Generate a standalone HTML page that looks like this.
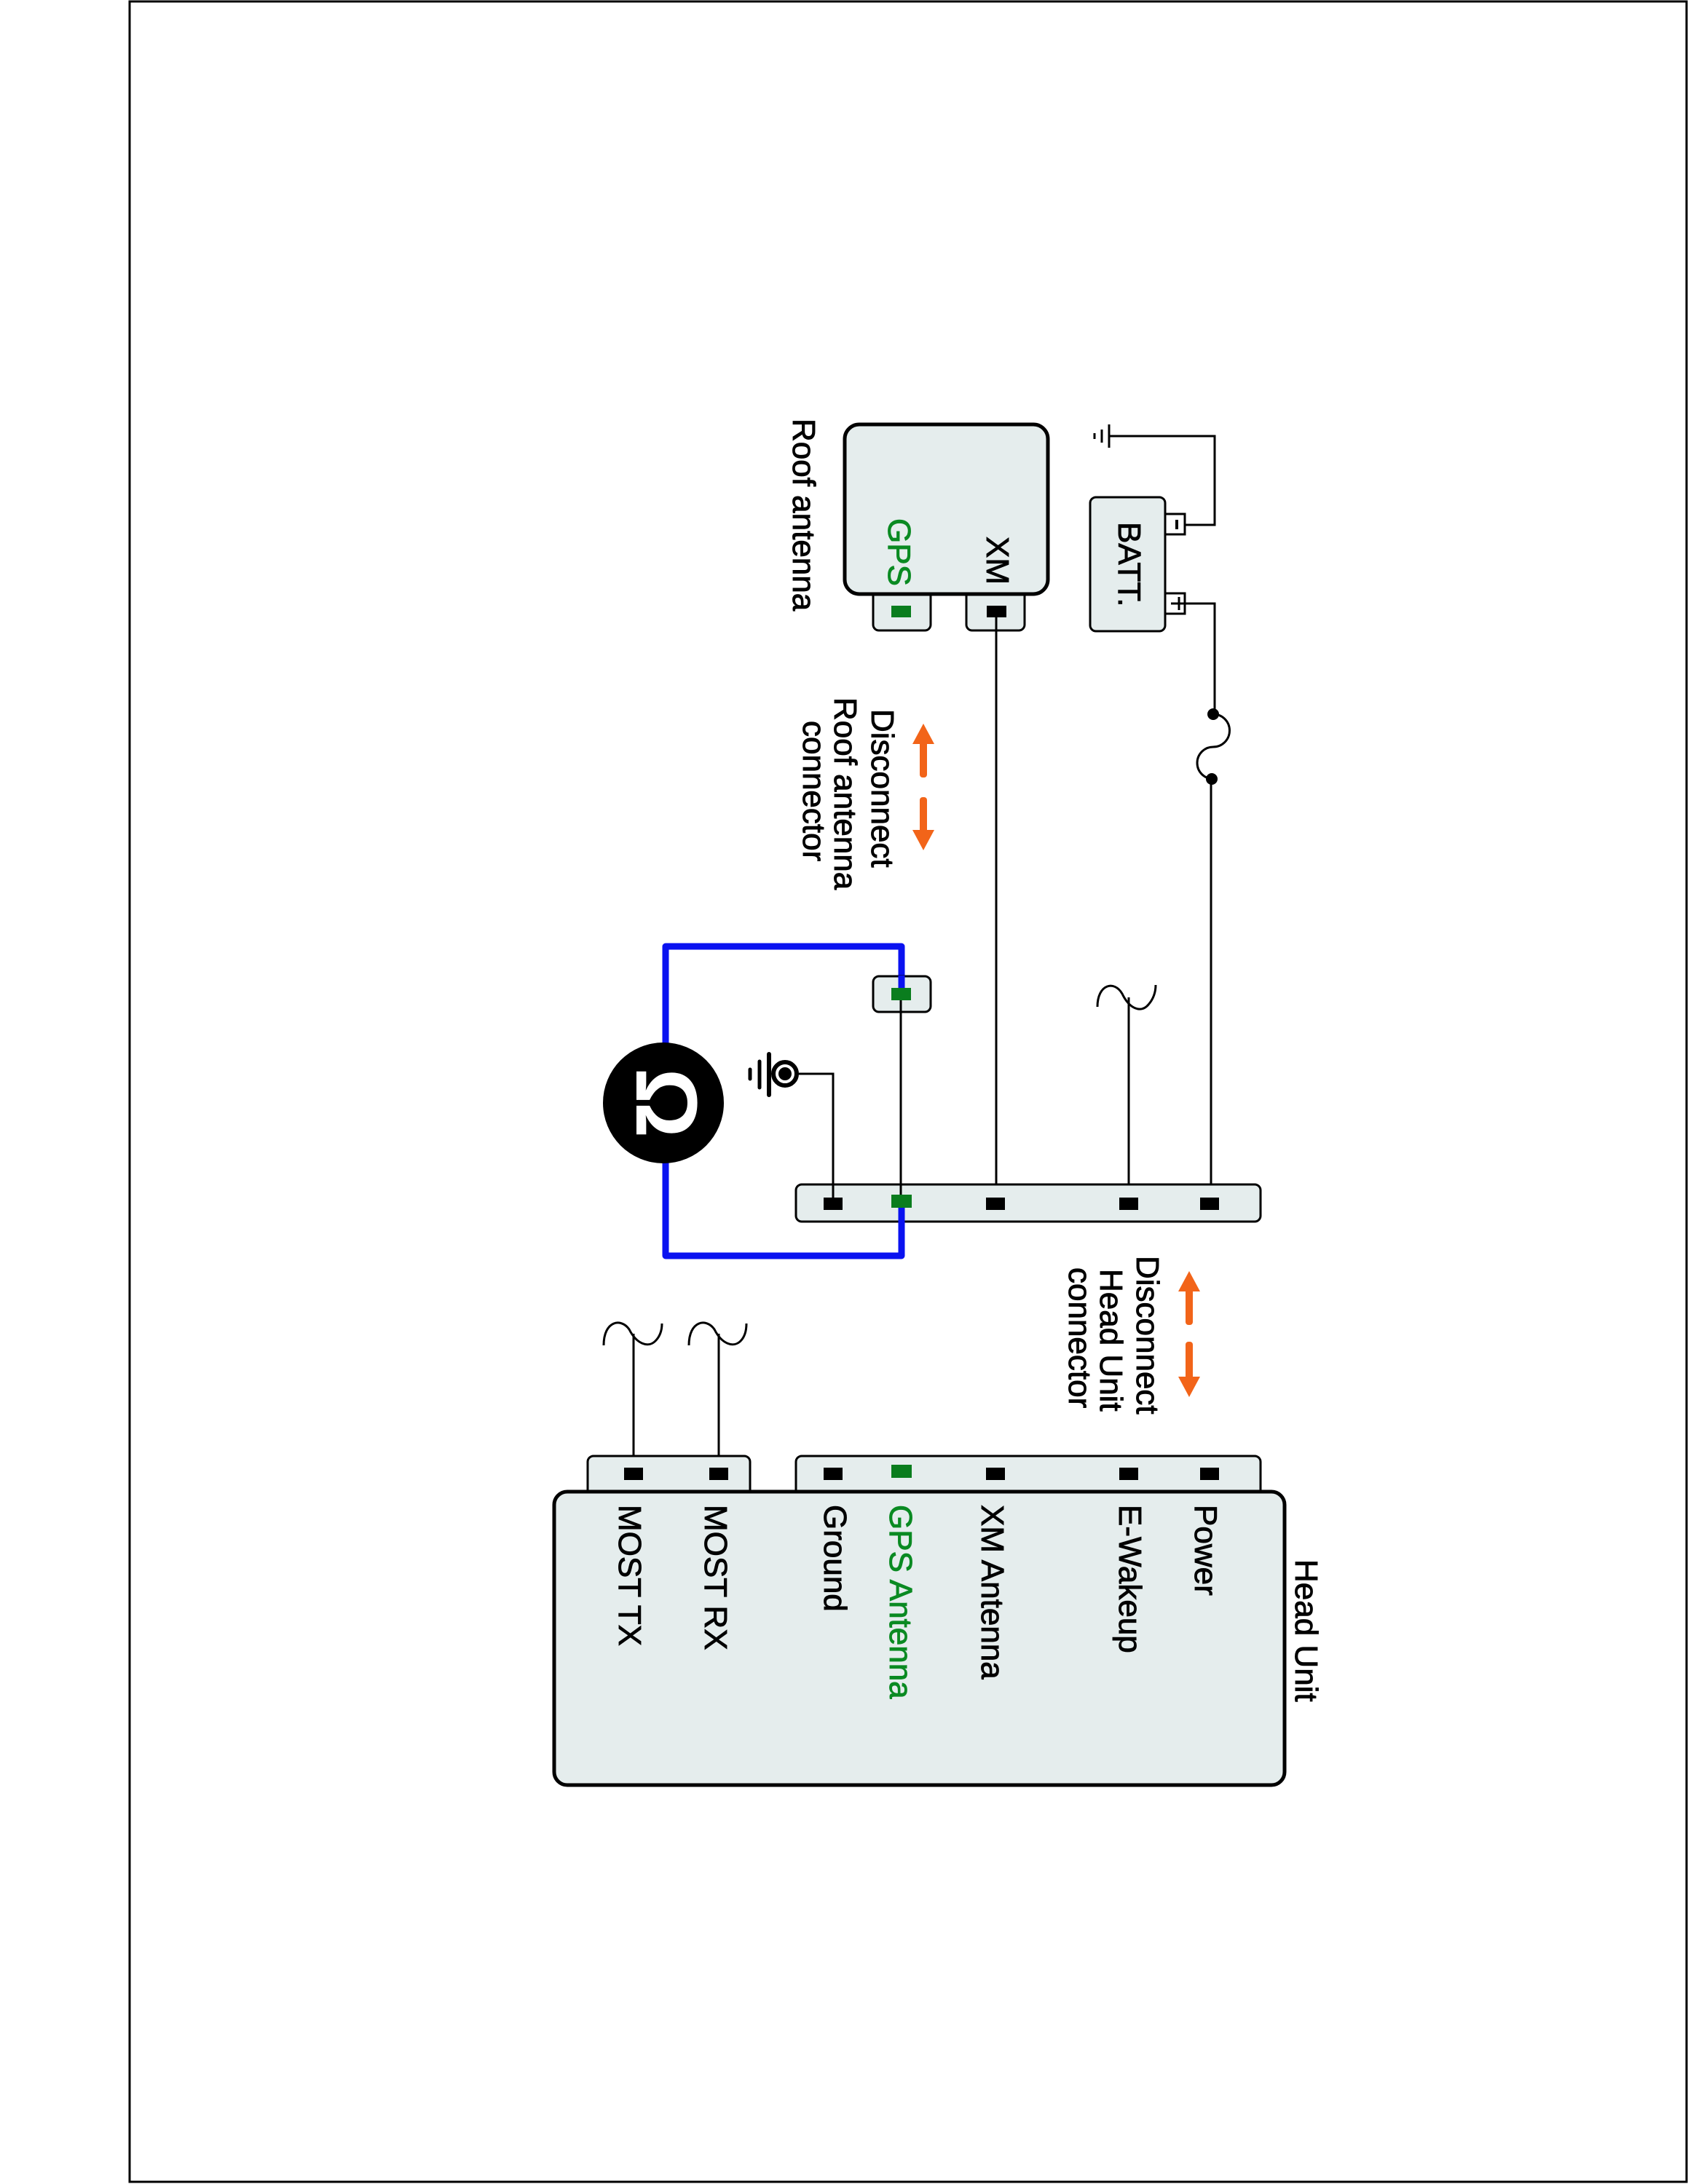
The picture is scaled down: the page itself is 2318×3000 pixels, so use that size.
<!DOCTYPE html>
<html><head><meta charset="utf-8"><style>
html,body{margin:0;padding:0;background:#fff}
svg{display:block}
text{font-family:"Liberation Sans",sans-serif;font-size:44px;fill:#000;stroke:#000;stroke-width:0.9}
</style></head><body>
<svg width="2318" height="3000" viewBox="0 0 2318 3000" xmlns="http://www.w3.org/2000/svg">
<rect x="178" y="2" width="2138" height="2995" fill="none" stroke="#000" stroke-width="3"/>

<!-- Roof antenna -->
<rect x="1199" y="800" width="79" height="66" rx="8" fill="#e5eded" stroke="#000" stroke-width="3"/>
<rect x="1327" y="800" width="80" height="66" rx="8" fill="#e5eded" stroke="#000" stroke-width="3"/>
<rect x="1160" y="583" width="279" height="233" rx="20" fill="#e5eded" stroke="#000" stroke-width="5"/>
<rect x="1224" y="832" width="27" height="16" fill="#0a7d1e"/>
<rect x="1355" y="832" width="27" height="16" fill="#000"/>
<text transform="translate(1089,575) rotate(90)">Roof antenna</text>
<text transform="translate(1220,712) rotate(90)" style="fill:#0a8a22;stroke:#0a8a22">GPS</text>
<text transform="translate(1355,737) rotate(90)">XM</text>

<!-- Battery -->
<rect x="1497" y="683" width="103" height="184" rx="8" fill="#e5eded" stroke="#000" stroke-width="3"/>
<rect x="1600" y="706" width="27" height="28" fill="#fff" stroke="#000" stroke-width="3"/>
<rect x="1600" y="815" width="27" height="28" fill="#fff" stroke="#000" stroke-width="3"/>
<line x1="1616" y1="714" x2="1616" y2="727" stroke="#000" stroke-width="4"/>
<line x1="1619" y1="820" x2="1619" y2="838" stroke="#000" stroke-width="3"/>
<line x1="1608" y1="829" x2="1627" y2="829" stroke="#000" stroke-width="3"/>
<text transform="translate(1536,717) rotate(90)">BATT.</text>
<polyline points="1627,721 1668,721 1668,599 1523,599" fill="none" stroke="#000" stroke-width="3"/>
<line x1="1523" y1="583" x2="1523" y2="615" stroke="#000" stroke-width="3"/>
<line x1="1513" y1="590" x2="1513" y2="608" stroke="#000" stroke-width="3"/>
<line x1="1503" y1="595" x2="1503" y2="603" stroke="#000" stroke-width="3"/>
<polyline points="1627,829 1668,829 1668,981" fill="none" stroke="#000" stroke-width="3"/>
<path d="M1666,981 A22,22 0 0 1 1666,1026 A22,22 0 0 0 1666,1070" fill="none" stroke="#000" stroke-width="3"/>
<circle cx="1666" cy="981" r="8" fill="#000"/>
<circle cx="1664" cy="1070" r="8" fill="#000"/>
<line x1="1663" y1="1070" x2="1663" y2="1653" stroke="#000" stroke-width="3"/>

<!-- XM wire -->
<line x1="1368" y1="840" x2="1368" y2="1653" stroke="#000" stroke-width="3"/>

<!-- disconnect arrows -->
<g fill="#f26419" stroke="none">
<rect x="1263" y="1015" width="10" height="53" rx="4"/>
<polygon points="1253,1022 1283,1022 1268,994"/>
<rect x="1263" y="1095" width="10" height="50" rx="4"/>
<polygon points="1253,1140 1283,1140 1268,1168"/>
<rect x="1628" y="1768" width="10" height="52" rx="4"/>
<polygon points="1618,1774 1648,1774 1633,1746"/>
<rect x="1628" y="1843" width="10" height="52" rx="4"/>
<polygon points="1618,1891 1648,1891 1633,1919"/>
</g>
<text transform="translate(1197,974) rotate(90)">Disconnect</text>
<text transform="translate(1146,958) rotate(90)">Roof antenna</text>
<text transform="translate(1103,990) rotate(90)">connector</text>

<!-- Blue loop -->
<polyline points="1238,1366 1238,1300 914,1300 914,1725 1238,1725 1238,1653" fill="none" stroke="#0a12f0" stroke-width="9" stroke-linejoin="round"/>
<rect x="1199" y="1341" width="79" height="49" rx="8" fill="#e5eded" stroke="#000" stroke-width="3"/>
<line x1="1238" y1="1340" x2="1238" y2="1366" stroke="#0a12f0" stroke-width="9"/>
<rect x="1224" y="1357" width="27" height="17" fill="#0a7d1e"/>
<line x1="1237" y1="1374" x2="1237" y2="1641" stroke="#000" stroke-width="3"/>
<circle cx="911" cy="1515" r="83" fill="#000"/>
<text transform="translate(874,1515) rotate(90)" text-anchor="middle" style="fill:#fff;stroke:none;font-size:120px;font-weight:bold">Ω</text>

<!-- chassis ground -->
<circle cx="1078" cy="1475" r="16" fill="#fff" stroke="#000" stroke-width="6"/>
<circle cx="1078" cy="1475" r="9" fill="#000"/>
<line x1="1056" y1="1448" x2="1056" y2="1504" stroke="#000" stroke-width="6" stroke-linecap="round"/>
<line x1="1043" y1="1458" x2="1043" y2="1494" stroke="#000" stroke-width="5" stroke-linecap="round"/>
<line x1="1030" y1="1469" x2="1030" y2="1482" stroke="#000" stroke-width="5" stroke-linecap="round"/>
<polyline points="1094,1475 1144,1475 1144,1653" fill="none" stroke="#000" stroke-width="3"/>

<!-- E-wakeup -->
<path d="M1507,1383 C1507,1352 1530,1346 1541,1365 C1551,1386 1567,1392 1577,1380 C1584,1372 1587,1362 1587,1353" fill="none" stroke="#000" stroke-width="3"/>
<line x1="1550" y1="1370" x2="1550" y2="1653" stroke="#000" stroke-width="3"/>

<!-- middle connector bar -->
<rect x="1093" y="1627" width="638" height="51" rx="8" fill="#e5eded" stroke="#000" stroke-width="3"/>
<rect x="1131" y="1645" width="26" height="17" fill="#000"/>
<rect x="1224" y="1641" width="28" height="18" fill="#0a7d1e"/>
<rect x="1354" y="1645" width="26" height="17" fill="#000"/>
<rect x="1537" y="1645" width="26" height="17" fill="#000"/>
<rect x="1648" y="1645" width="26" height="17" fill="#000"/>
<line x1="1144" y1="1627" x2="1144" y2="1653" stroke="#000" stroke-width="3"/>
<line x1="1237" y1="1627" x2="1237" y2="1641" stroke="#000" stroke-width="3"/>
<line x1="1238" y1="1659" x2="1238" y2="1680" stroke="#0a12f0" stroke-width="9"/>

<text transform="translate(1561,1725) rotate(90)">Disconnect</text>
<text transform="translate(1511,1743) rotate(90)">Head Unit</text>
<text transform="translate(1468,1741) rotate(90)">connector</text>

<!-- MOST wires -->
<path d="M829,1848 C829,1814 853,1810 864,1826 C874,1846 890,1852 900,1842 C906,1836 909,1828 909,1818" fill="none" stroke="#000" stroke-width="3"/>
<path d="M946,1848 C946,1814 970,1810 981,1826 C991,1846 1007,1852 1017,1842 C1023,1836 1025,1828 1025,1818" fill="none" stroke="#000" stroke-width="3"/>
<line x1="870" y1="1832" x2="870" y2="2024" stroke="#000" stroke-width="3"/>
<line x1="987" y1="1832" x2="987" y2="2024" stroke="#000" stroke-width="3"/>

<!-- Head unit -->
<rect x="807" y="2000" width="223" height="60" rx="8" fill="#e5eded" stroke="#000" stroke-width="3"/>
<rect x="1093" y="2000" width="638" height="60" rx="8" fill="#e5eded" stroke="#000" stroke-width="3"/>
<rect x="761" y="2049" width="1003" height="403" rx="18" fill="#e5eded" stroke="#000" stroke-width="5"/>
<rect x="857" y="2016" width="26" height="17" fill="#000"/>
<rect x="974" y="2016" width="26" height="17" fill="#000"/>
<rect x="1131" y="2016" width="26" height="17" fill="#000"/>
<rect x="1224" y="2012" width="28" height="18" fill="#0a7d1e"/>
<rect x="1354" y="2016" width="26" height="17" fill="#000"/>
<rect x="1537" y="2016" width="26" height="17" fill="#000"/>
<rect x="1648" y="2016" width="26" height="17" fill="#000"/>

<text transform="translate(850,2067) rotate(90)">MOST TX</text>
<text transform="translate(968,2067) rotate(90)">MOST RX</text>
<text transform="translate(1132,2067) rotate(90)">Ground</text>
<text transform="translate(1222,2067) rotate(90)" style="fill:#0a8a22;stroke:#0a8a22">GPS Antenna</text>
<text transform="translate(1348,2067) rotate(90)">XM Antenna</text>
<text transform="translate(1537,2067) rotate(90)">E-Wakeup</text>
<text transform="translate(1641,2067) rotate(90)">Power</text>
<text transform="translate(1779,2142) rotate(90)">Head Unit</text>
</svg>
</body></html>
